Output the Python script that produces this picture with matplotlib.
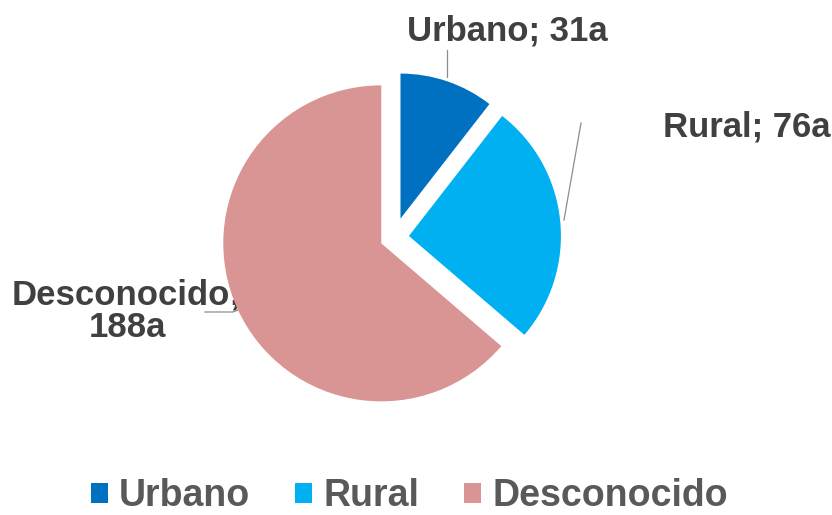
import matplotlib.pyplot as plt

# Данные
categories = ['Urbano', 'Rural', 'Desconocido']
values = [31, 76, 188]
colors = ['#0070C0', '#00B0F0', '#D99594']
explode = [20, 15, 14]  # в пикселях (единицы осей)
radii = [145, 152, 158]  # slices are drawn with slightly different sizes

W, H = 832, 515
fig = plt.figure(figsize=(W / 100, H / 100), dpi=100)
ax = fig.add_axes([0, 0, 1, 1])


def iy(y):
    # координаты картинки -> координаты осей
    return H - y


wedges, _ = ax.pie(values, colors=colors, explode=explode, startangle=90,
                   counterclock=False, radius=152, center=(394, iy(237.5)),
                   frame=True)
for w, r in zip(wedges, radii):
    w.set_radius(r)
    w.set_zorder(3)
ax.set_xlim(0, W)
ax.set_ylim(0, H)
ax.set_aspect('equal')
ax.axis('off')

font = 'Liberation Sans'
label_color = '#404040'

# подписи
ax.text(507, iy(41), f'{categories[0]}; {values[0]}a', ha='center', va='baseline',
        fontsize=25, fontweight='bold', family=font, color=label_color, zorder=1)
ax.text(663, iy(137), f'{categories[1]}; {values[1]}a', ha='left', va='baseline',
        fontsize=25, fontweight='bold', family=font, color=label_color, zorder=1)
ax.text(127, iy(311), f'{categories[2]};\n{values[2]}a', ha='center', va='center',
        fontsize=25, fontweight='bold', family=font, color=label_color,
        linespacing=1.0, zorder=1)

# линии-выноски
line_kw = dict(color='#8c8c8c', lw=0.9, zorder=2)
ax.plot([447, 447], [iy(50), iy(77)], **line_kw)
ax.plot([581, 564], [iy(123), iy(220)], **line_kw)
ax.plot([205, 233, 238], [iy(312), iy(312), iy(310)], **line_kw)

leg = fig.legend(wedges, categories, loc='center', bbox_to_anchor=(0.492, 0.037),
                 ncol=3, frameon=False, handlelength=0.45, handleheight=0.45,
                 handletextpad=0.3, columnspacing=1.2,
                 prop={'family': font, 'weight': 'bold', 'size': 27})
for t in leg.get_texts():
    t.set_color('#595959')

fig.savefig('out.png', dpi=100)
